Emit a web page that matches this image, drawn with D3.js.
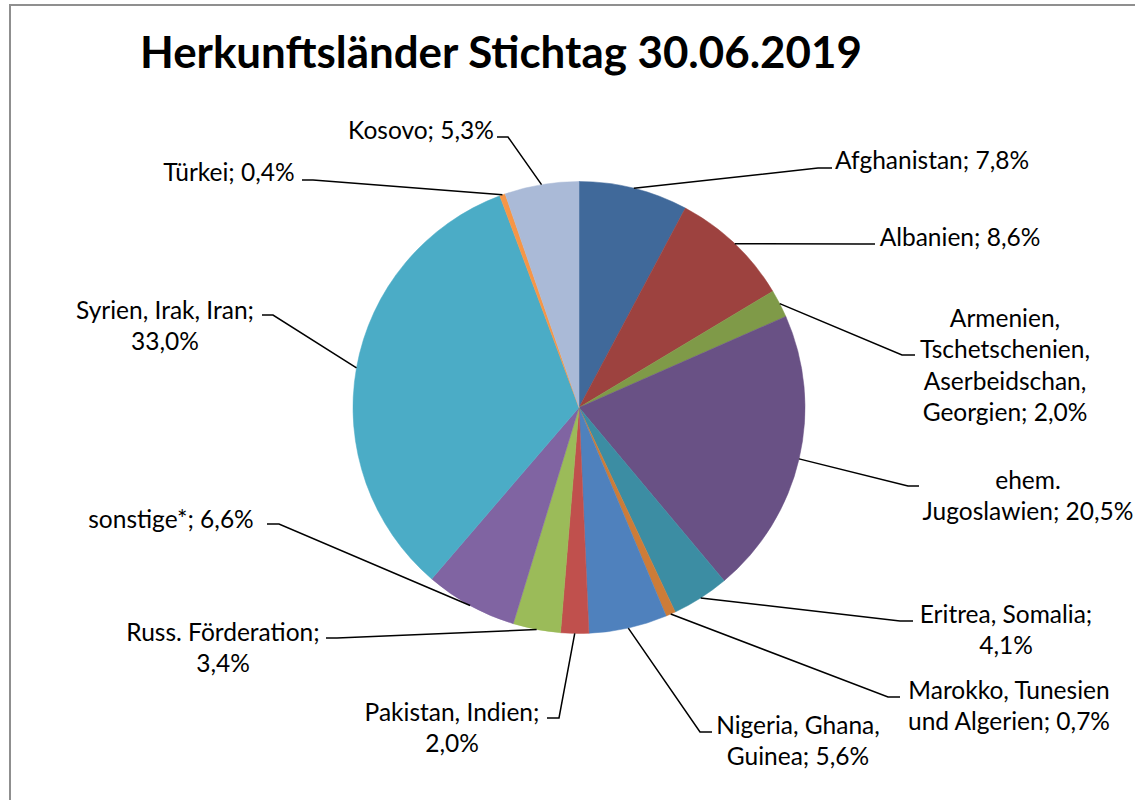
<!DOCTYPE html>
<html>
<head>
<meta charset="utf-8">
<script src="https://cdn.jsdelivr.net/npm/d3@7"></script>
<style>
  body { margin: 0; background: #fff; }
  text { font-family: Lato, "Open Sans", sans-serif; fill: #000; }
</style>
</head>
<body>
<div id="chart"></div>
<script>
// Data (percent, clockwise from 12 o'clock)
var categories = [
  'Afghanistan', 'Albanien', 'Armenien, Tschetschenien, Aserbeidschan, Georgien',
  'ehem. Jugoslawien', 'Eritrea, Somalia', 'Marokko, Tunesien und Algerien',
  'Nigeria, Ghana, Guinea', 'Pakistan, Indien', 'Russ. Förderation',
  'sonstige*', 'Syrien, Irak, Iran', 'Türkei', 'Kosovo'
];
var values = [7.8, 8.6, 2.0, 20.5, 4.1, 0.7, 5.6, 2.0, 3.4, 6.6, 33.0, 0.4, 5.3];
var title = 'Herkunftsländer Stichtag 30.06.2019';

var colors = [
  '#40699a', '#9d423f', '#7f9a48', '#695185', '#3c8da3', '#cd7c38',
  '#4f81bd', '#c0504d', '#9bbb59', '#8064a2', '#4bacc6', '#f79646', '#aabad7'
];

// Label layout: words per line, text centre x, first line centre y,
// leader end x, leader y, elbow x
var labelLayout = [
  {breaks: [2],       cx: 932,  y0: 160, ax: 832, ay: 168, ex: 818},
  {breaks: [2],       cx: 960,  y0: 237, ax: 875, ay: 244, ex: 860},
  {breaks: [1, 1, 1, 2], cx: 1005, y0: 318, ax: 915, ay: 355, ex: 902},
  {breaks: [1, 2],    cx: 1028, y0: 480, ax: 919, ay: 486, ex: 908},
  {breaks: [2, 1],    cx: 1006, y0: 614, ax: 913, ay: 621, ex: 900},
  {breaks: [2, 3],    cx: 1009, y0: 690, ax: 900, ay: 697, ex: 888},
  {breaks: [2, 2],    cx: 798,  y0: 725, ax: 712, ay: 732, ex: 700},
  {breaks: [2, 1],    cx: 452,  y0: 712, ax: 547, ay: 718, ex: 559},
  {breaks: [2, 1],    cx: 223,  y0: 632, ax: 326, ay: 638, ex: 337},
  {breaks: [2],       cx: 171,  y0: 519, ax: 267, ay: 524, ex: 279},
  {breaks: [3, 1],    cx: 165,  y0: 310, ax: 262, ay: 315, ex: 273},
  {breaks: [2],       cx: 229,  y0: 172, ax: 302, ay: 180, ex: 313},
  {breaks: [2],       cx: 421,  y0: 130, ax: 497, ay: 137, ex: 508}
];

var width = 1135;
var height = 800;
var cx = 579, cy = 407.5, radius = 226;
var lineHeight = 31.5;
var labelSize = 24.5;

var fmt = function(v) { return v.toFixed(1).replace('.', ',') + '%'; };

var svg = d3.select('#chart').append('svg')
    .attr('width', width)
    .attr('height', height);

// chart frame
svg.append('rect')
    .attr('x', 10)
    .attr('y', 5)
    .attr('width', width + 20)
    .attr('height', height + 20)
    .attr('fill', 'none')
    .attr('stroke', '#8f8f8f')
    .attr('stroke-width', 2);

// title, fitted to the width of the original
var titleText = svg.append('text')
    .attr('x', 140)
    .attr('y', 68)
    .attr('font-size', 40)
    .attr('font-weight', 'bold')
    .text(title);
var tw = titleText.node().getComputedTextLength();
titleText.attr('font-size', 40 * 722 / tw);

var data = categories.map(function(c, i) {
  return {name: c, value: values[i], color: colors[i], layout: labelLayout[i]};
});

var pie = d3.pie()
    .sort(null)
    .value(function(d) { return d.value; });

var arc = d3.arc()
    .innerRadius(0)
    .outerRadius(radius);

var edgeArc = d3.arc()
    .innerRadius(radius)
    .outerRadius(radius);

var arcs = pie(data);

var g = svg.append('g')
    .attr('transform', 'translate(' + cx + ',' + cy + ')');

g.selectAll('.slice')
    .data(arcs)
  .enter().append('path')
    .attr('class', 'slice')
    .attr('d', arc)
    .attr('fill', function(d) { return d.data.color; })
    .attr('stroke', function(d) { return d.data.color; })
    .attr('stroke-width', 0.5);

// leader lines
var line = d3.line();
svg.append('g')
    .attr('class', 'leaders')
  .selectAll('path')
    .data(arcs)
  .enter().append('path')
    .attr('fill', 'none')
    .attr('stroke', '#000')
    .attr('stroke-width', 1.5)
    .attr('d', function(d) {
      var p = edgeArc.centroid(d);
      var l = d.data.layout;
      return line([[cx + p[0], cy + p[1]], [l.ex, l.ay], [l.ax, l.ay]]);
    });

// labels
var labels = svg.append('g')
    .attr('class', 'labels')
    .attr('font-size', labelSize);

arcs.forEach(function(d) {
  var words = (d.data.name + '; ' + fmt(d.data.value)).split(' ');
  var l = d.data.layout;
  var lines = [];
  var k = 0;
  l.breaks.forEach(function(n) {
    lines.push(words.slice(k, k + n).join(' '));
    k += n;
  });
  var t = labels.append('text')
      .attr('text-anchor', 'middle');
  lines.forEach(function(s, i) {
    t.append('tspan')
        .attr('x', l.cx)
        .attr('y', l.y0 + i * lineHeight)
        .attr('dy', '0.35em')
        .text(s);
  });
});
</script>
</body>
</html>
